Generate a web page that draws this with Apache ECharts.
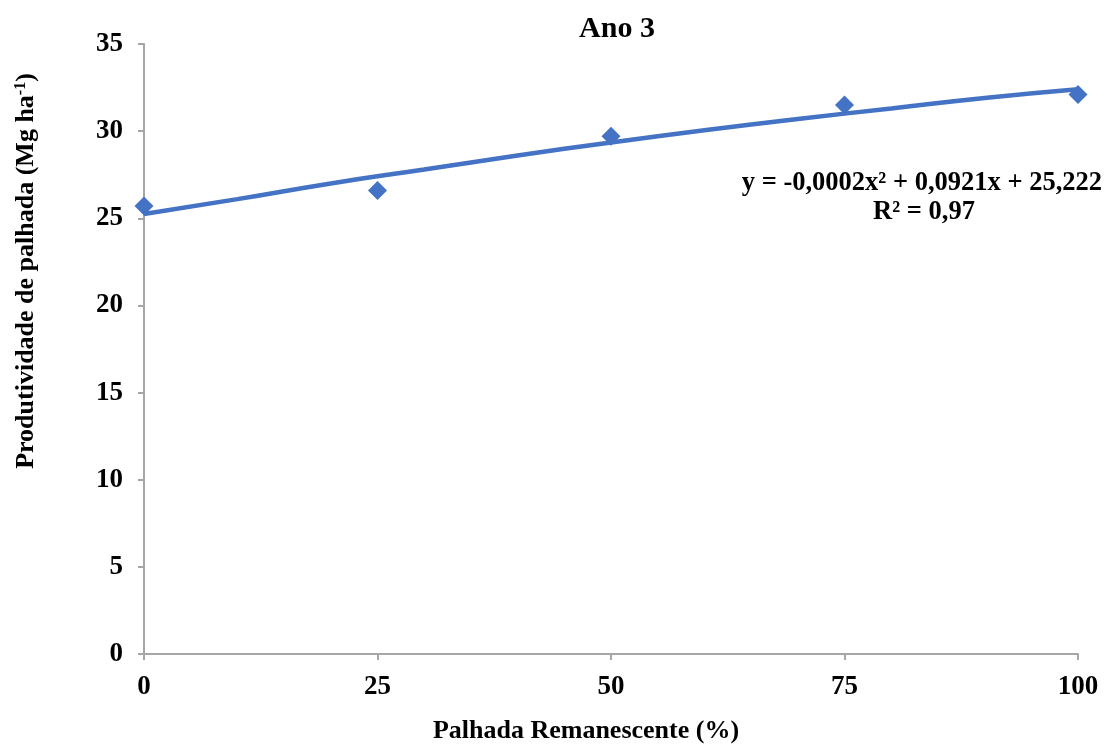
<!DOCTYPE html>
<html>
<head>
<meta charset="utf-8">
<script src="https://cdn.jsdelivr.net/npm/echarts@6/dist/echarts.min.js"></script>
<style>html,body{margin:0;padding:0;background:#fff}#c{width:1107px;height:745px}</style>
</head>
<body>
<div id="c"></div>
<script>
const xTicks = [0, 25, 50, 75, 100];
const obsX = [0, 25, 50, 75, 100];
const obsY = [25.7, 26.6, 29.7, 31.5, 32.1];
const trendX = [0, 10, 20, 30, 40, 50, 60, 70, 80, 90, 100];
const trendY = [25.25, 26.1, 27.0, 27.8, 28.6, 29.35, 30.05, 30.7, 31.3, 31.9, 32.4];
const titleText = 'Ano 3';
const xName = 'Palhada Remanescente (%)';
const eqText = 'y = -0,0002x² + 0,0921x + 25,222';
const r2Text = 'R² = 0,97';

const FONT = '"Liberation Serif","Times New Roman",serif';
const chart = echarts.init(document.getElementById('c'));
chart.setOption({
  backgroundColor: '#fff',
  animation: false,
  grid: { left: 144, right: 29, top: 44, bottom: 91 },
  xAxis: {
    type: 'value', min: 0, max: 100, interval: 25,
    axisLine: { show: true, lineStyle: { color: '#a6a6a6', width: 2 } },
    axisTick: { show: true, length: 6, lineStyle: { color: '#a6a6a6', width: 2 } },
    splitLine: { show: false },
    axisLabel: { fontFamily: FONT, fontWeight: 'bold', fontSize: 27, color: '#000', margin: 20,
      formatter: v => xTicks.includes(v) ? String(v) : '' }
  },
  yAxis: {
    type: 'value', min: 0, max: 35, interval: 5,
    axisLine: { show: true, lineStyle: { color: '#a6a6a6', width: 2 } },
    axisTick: { show: true, length: 6, lineStyle: { color: '#a6a6a6', width: 2 } },
    splitLine: { show: false },
    axisLabel: { fontFamily: FONT, fontWeight: 'bold', fontSize: 27, color: '#000', margin: 21 }
  },
  series: [
    {
      type: 'line', data: trendX.map((x, i) => [x, trendY[i]]), smooth: true,
      showSymbol: false, lineStyle: { color: '#4472C4', width: 4.5 }, z: 2
    },
    {
      type: 'scatter', data: obsX.map((x, i) => [x, obsY[i]]),
      symbol: 'diamond', symbolSize: [19, 19], itemStyle: { color: '#4472C4', opacity: 1 }, z: 3
    }
  ],
  graphic: [
    { type: 'text', style: { text: titleText, x: 617, y: 29, align: 'center', verticalAlign: 'middle',
      font: 'bold 30px ' + FONT, fill: '#000' } },
    { type: 'text', style: { text: xName, x: 586, y: 731, align: 'center', verticalAlign: 'middle',
      font: 'bold 26px ' + FONT, fill: '#000' } },
    { type: 'text', x: 26, y: 271, rotation: Math.PI / 2,
      style: { text: '{n|Produtividade de palhada (Mg ha}{s|-1}{n|)}', align: 'center', verticalAlign: 'middle',
        rich: { n: { font: 'bold 26px ' + FONT, fill: '#000', verticalAlign: 'bottom' },
                s: { font: 'bold 16px ' + FONT, fill: '#000', verticalAlign: 'top' } } } },
    { type: 'text', style: { text: eqText, x: 1102, y: 183, align: 'right', verticalAlign: 'middle',
      font: 'bold 26.5px ' + FONT, fill: '#000' } },
    { type: 'text', style: { text: r2Text, x: 924, y: 212, align: 'center', verticalAlign: 'middle',
      font: 'bold 26.5px ' + FONT, fill: '#000' } }
  ]
});
</script>
</body>
</html>
